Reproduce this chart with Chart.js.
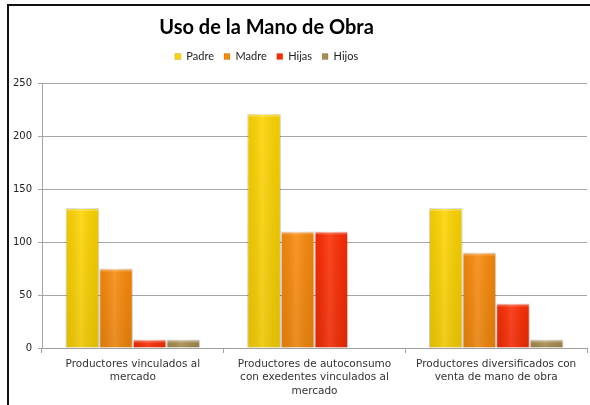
<!DOCTYPE html>
<html>
<head>
<meta charset="utf-8">
<script src="https://cdn.jsdelivr.net/npm/chart.js@4.4.1/dist/chart.umd.min.js"></script>
<style>
  html, body { margin: 0; padding: 0; background: #fff; }
  #wrap { position: relative; width: 590px; height: 405px; overflow: hidden; }
  #frame { position: absolute; left: 7px; top: 4px; width: 700px; height: 500px; border-left: 2px solid #111; border-top: 2px solid #111; pointer-events: none; }
  canvas { position: absolute; left: 0; top: 0; }
</style>
</head>
<body>
<div id="wrap">
  <canvas id="c" width="590" height="405"></canvas>
  <div id="frame"></div>
</div>
<script>
const chartTitle = "Uso de la Mano de Obra";
const categories = [
  ["Productores vinculados al", "mercado"],
  ["Productores de autoconsumo", "con exedentes vinculados al", "mercado"],
  ["Productores diversificados con", "venta de mano de obra"]
];
const seriesNames = ["Padre", "Madre", "Hijas", "Hijos"];
const padreValues = [132, 221, 132];
const madreValues = [75, 110, 90];
const hijasValues = [8, 110, 42];
const hijosValues = [8, 0, 8];
const yTicks = [0, 50, 100, 150, 200, 250];
const seriesColors = ["#fdd400", "#f8890a", "#fc2c02", "#a88e4e"];

const TFONT = "'Lato', 'DejaVu Sans', sans-serif";
const AFONT = "'DejaVu Sans', sans-serif";

const shiftPlugin = {
  id: 'shiftTop',
  beforeInit(chart) {
    const lg = chart.legend;
    if (lg && !lg._patched) {
      const fit = lg.fit;
      lg.fit = function () { fit.call(this); this.height += 11; };
      lg._patched = true;
    }
  },
  afterLayout(chart) {
    const dx = -27;
    if (chart.titleBlock) { chart.titleBlock.left += dx; chart.titleBlock.right += dx; }
    if (chart.legend) { chart.legend.left += dx; chart.legend.right += dx; }
  }
};

const glossPlugin = {
  id: 'gloss',
  afterDatasetsDraw(chart) {
    const ctx = chart.ctx;
    chart.data.datasets.forEach((ds, i) => {
      const meta = chart.getDatasetMeta(i);
      meta.data.forEach(el => {
        const w = el.width, l = el.x - w / 2, top = Math.min(el.y, el.base), h = Math.abs(el.base - el.y);
        if (h < 0.5) return;
        const g = ctx.createLinearGradient(l, 0, l + w, 0);
        g.addColorStop(0, 'rgba(0,0,0,0.06)');
        g.addColorStop(0.45, 'rgba(255,255,255,0.12)');
        g.addColorStop(1, 'rgba(0,0,0,0.06)');
        ctx.save();
        ctx.fillStyle = g;
        ctx.fillRect(l, top, w, h);
        const v = ctx.createLinearGradient(0, top, 0, top + h);
        v.addColorStop(0, 'rgba(0,0,0,0)');
        v.addColorStop(1, 'rgba(0,0,0,0.06)');
        ctx.fillStyle = v;
        ctx.fillRect(l, top, w, h);
        const cap = Math.min(3, h);
        ctx.fillStyle = 'rgba(255,255,255,0.22)';
        ctx.fillRect(l, top, w, cap);
        ctx.restore();
      });
    });
  }
};

const allValues = [padreValues, madreValues, hijasValues, hijosValues];

new Chart(document.getElementById('c'), {
  type: 'bar',
  data: {
    labels: categories,
    datasets: seriesNames.map((n, i) => ({
      label: n,
      data: allValues[i],
      backgroundColor: seriesColors[i],
      borderColor: 'rgba(0,0,0,0.12)',
      borderWidth: 1,
      barPercentage: 1.0,
      categoryPercentage: 0.74
    }))
  },
  options: {
    responsive: false,
    animation: false,
    layout: { padding: { left: 0, right: 3, top: 0, bottom: 0 } },
    plugins: {
      title: {
        display: true,
        text: chartTitle,
        color: '#000',
        font: { family: TFONT, size: 20, weight: 'bold' },
        padding: { top: 16, bottom: 1 }
      },
      legend: {
        display: true,
        position: 'top',
        labels: {
          color: '#222',
          font: { family: TFONT, size: 11 },
          boxWidth: 6,
          boxHeight: 6,
          padding: 10
        }
      },
      tooltip: { enabled: false }
    },
    scales: {
      x: {
        grid: { drawOnChartArea: false, drawTicks: true, tickLength: 5, color: '#a0a0a0', offset: true },
        border: { display: true, color: '#a0a0a0' },
        ticks: { color: '#333', font: { family: AFONT, size: 10.5, lineHeight: 1.3 }, padding: 4, maxRotation: 0, autoSkip: false },
        afterFit(s) { s.height = 57; }
      },
      y: {
        min: 0, max: 250,
        afterBuildTicks(s) { s.ticks = yTicks.map(v => ({ value: v })); },
        grid: { color: '#a6a6a6', tickLength: 4 },
        border: { display: true, color: '#a6a6a6' },
        ticks: { color: '#222', font: { family: AFONT, size: 10 }, padding: 6 },
        afterFit(s) { s.width = 42; }
      }
    }
  },
  plugins: [shiftPlugin, glossPlugin]
});
</script>
</body>
</html>
